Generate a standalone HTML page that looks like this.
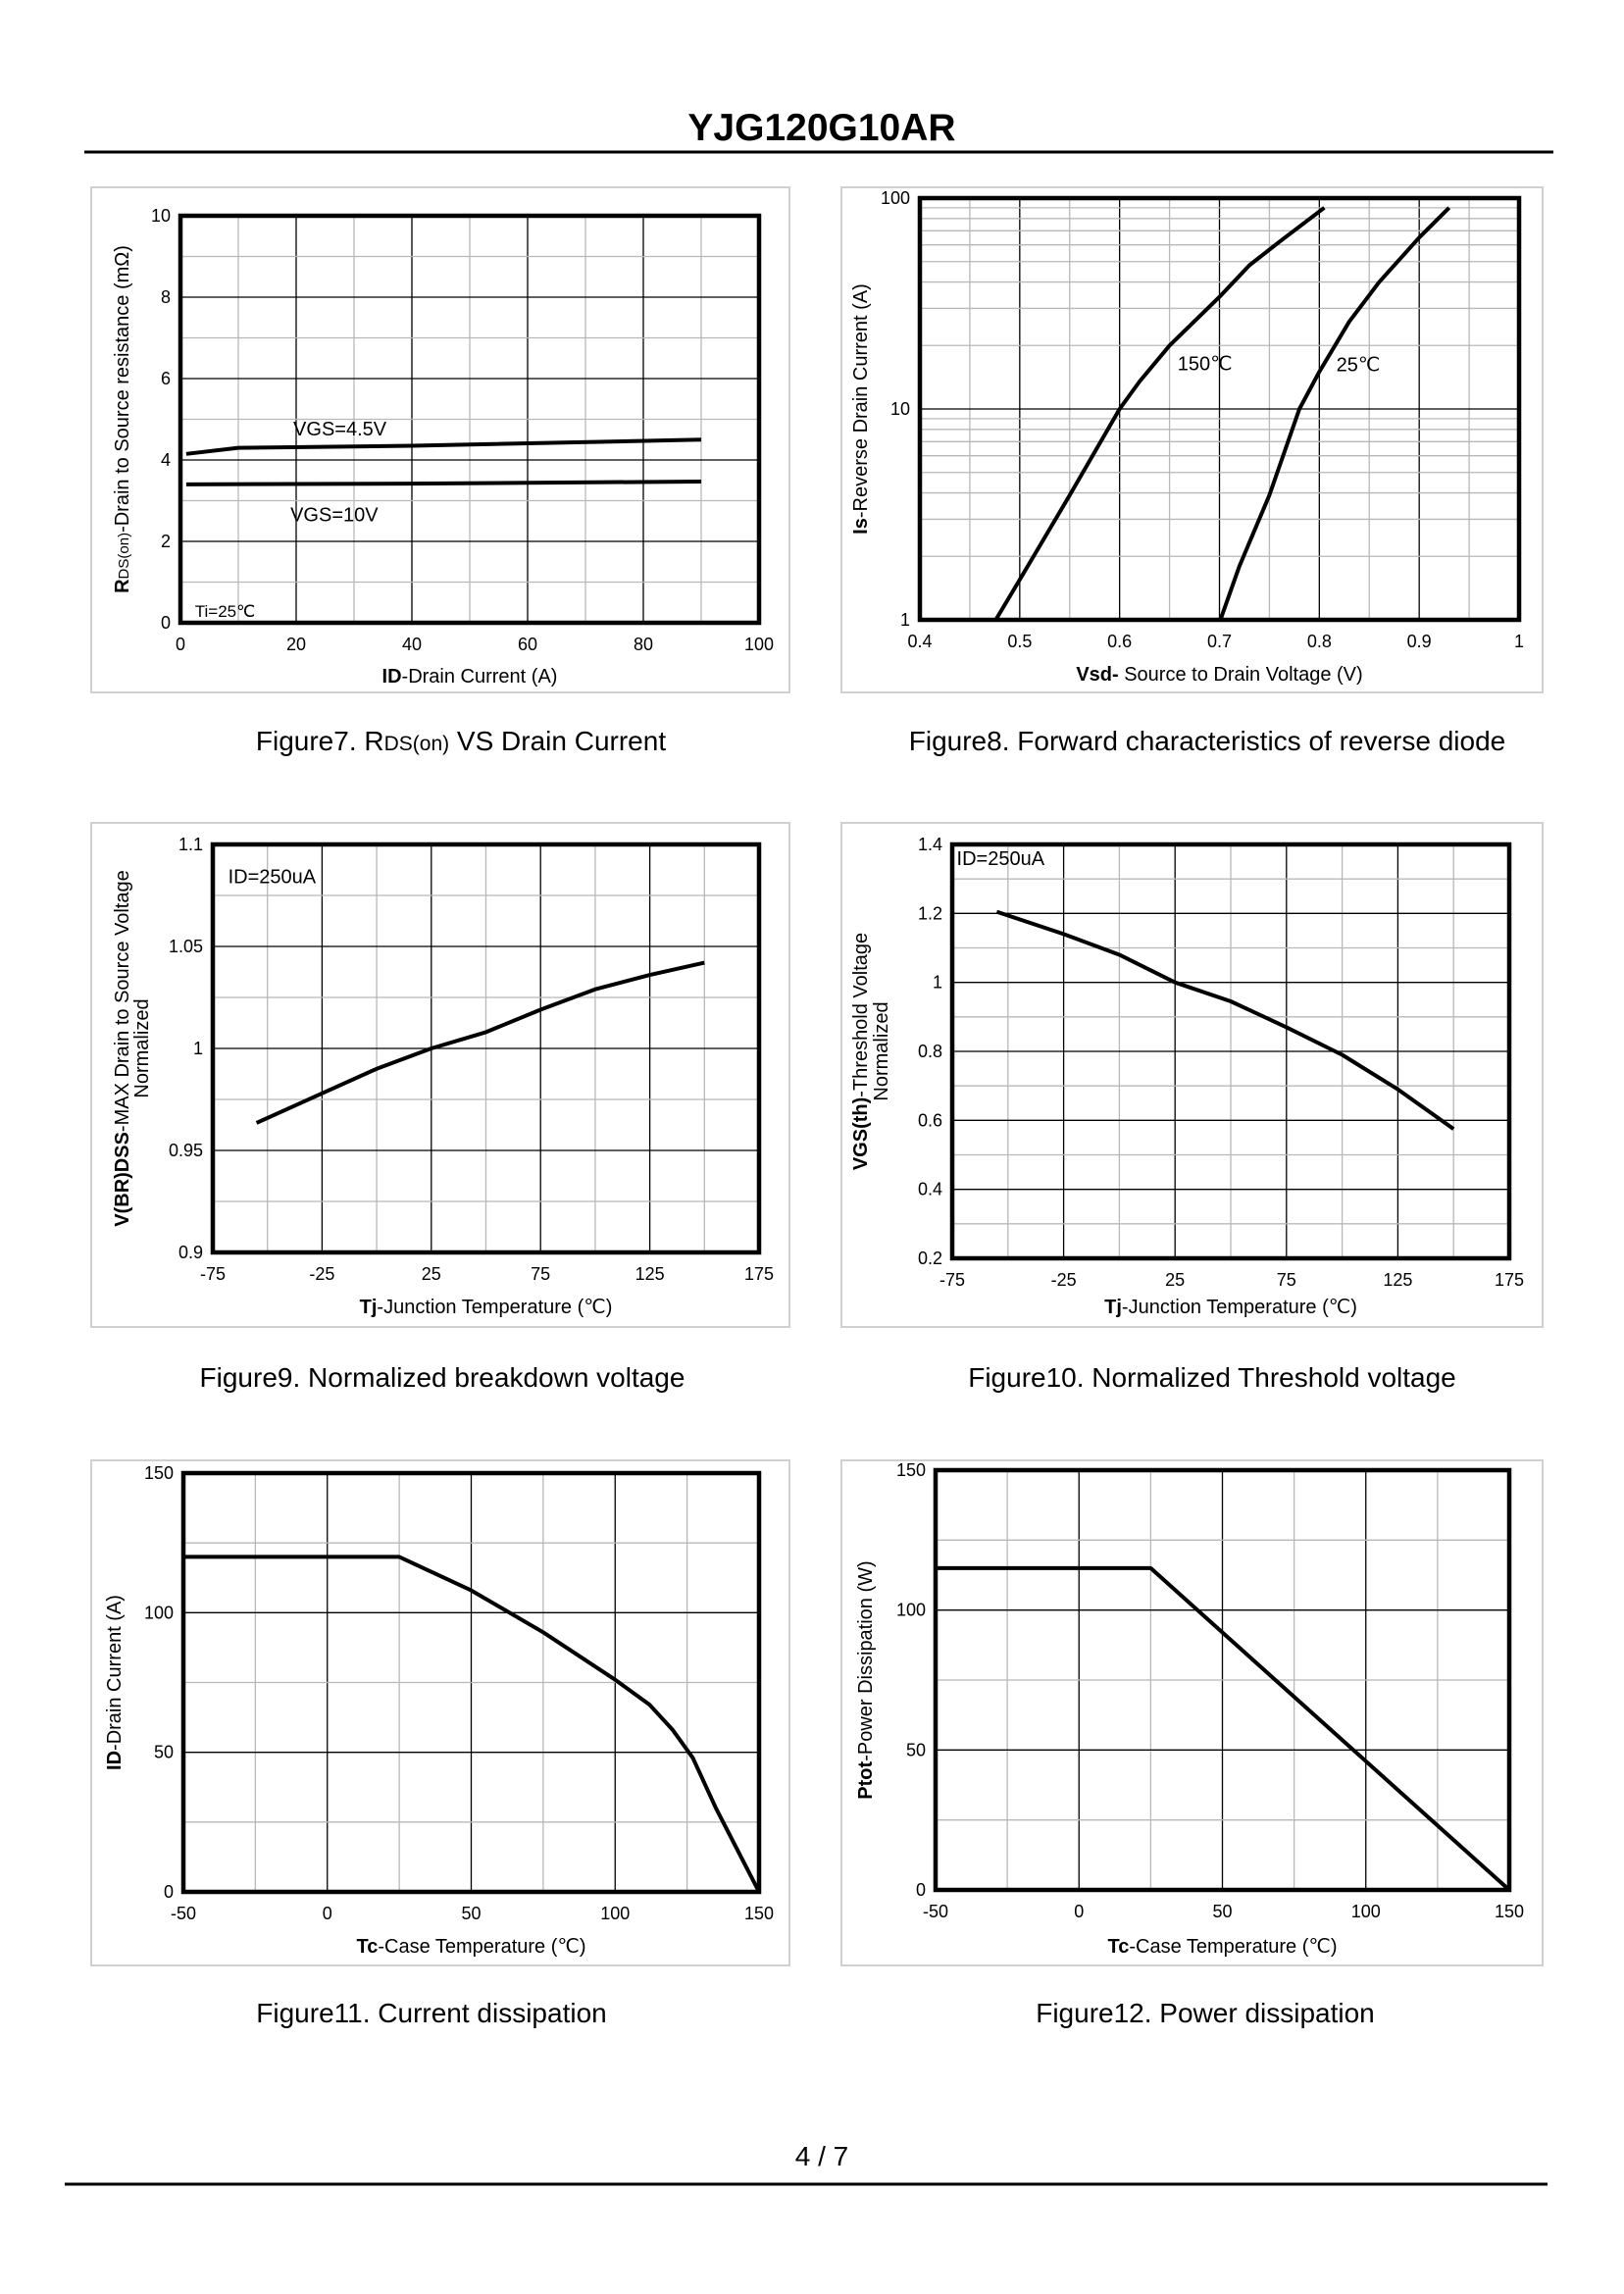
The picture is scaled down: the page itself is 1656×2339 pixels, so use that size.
<!DOCTYPE html>
<html><head><meta charset="utf-8"><style>
html,body{margin:0;padding:0;background:#fff}
svg{display:block}
text{font-family:"Liberation Sans",Arial,sans-serif;fill:#000}
</style></head><body>
<svg id="s" width="1656" height="2339" viewBox="0 0 1656 2339" xmlns="http://www.w3.org/2000/svg">
<text x="838" y="143" font-size="39" font-weight="bold" text-anchor="middle">YJG120G10AR</text>
<line x1="86" y1="155" x2="1584" y2="155" stroke="#000" stroke-width="3"/>
<text x="838" y="2208" font-size="28" text-anchor="middle">4 / 7</text>
<line x1="66" y1="2227" x2="1578" y2="2227" stroke="#000" stroke-width="3"/>
<text x="470" y="765" font-size="28" text-anchor="middle">Figure7. R<tspan font-size="21">DS(on)</tspan> VS Drain Current</text>
<text x="1231" y="765" font-size="28" text-anchor="middle">Figure8. Forward characteristics of reverse diode</text>
<text x="451" y="1414" font-size="28" text-anchor="middle">Figure9. Normalized breakdown voltage</text>
<text x="1236" y="1414" font-size="28" text-anchor="middle">Figure10. Normalized Threshold voltage</text>
<text x="440" y="2062" font-size="28" text-anchor="middle">Figure11. Current dissipation</text>
<text x="1229" y="2062" font-size="28" text-anchor="middle">Figure12. Power dissipation</text>
</svg>
<script>
var S=document.getElementById('s'),NS='http://www.w3.org/2000/svg';
function el(n,a,t){var e=document.createElementNS(NS,n);for(var k in a)e.setAttribute(k,a[k]);if(t!=null)e.textContent=t;S.appendChild(e);return e;}
function chart(c){
 el('rect',{x:c.px[0],y:c.px[1],width:c.px[2]-c.px[0],height:c.px[3]-c.px[1],fill:'#fff',stroke:'#d0d0d0','stroke-width':2});
 var L=c.p[0],T=c.p[1],R=c.p[2],B=c.p[3];
 var fx=function(v){return L+(v-c.x0)/(c.x1-c.x0)*(R-L);};
 var fy=c.log?function(v){return B-(Math.log10(v)-Math.log10(c.y0))/(Math.log10(c.y1)-Math.log10(c.y0))*(B-T);}:function(v){return B-(v-c.y0)/(c.y1-c.y0)*(B-T);};
 c.gx.forEach(function(g){var x=fx(g[0]);el('line',{x1:x,y1:T,x2:x,y2:B,stroke:g[1]?'#000':'#b8b8b8','stroke-width':g[1]?1.3:1.3});});
 c.gy.forEach(function(g){var y=fy(g[0]);el('line',{x1:L,y1:y,x2:R,y2:y,stroke:g[1]?'#000':'#b8b8b8','stroke-width':1.3});});
 el('rect',{x:L,y:T,width:R-L,height:B-T,fill:'none',stroke:'#000','stroke-width':4.5});
 c.xt.forEach(function(v){el('text',{x:fx(v),y:B+28,'font-size':18,'text-anchor':'middle'},String(v));});
 c.yt.forEach(function(v){el('text',{x:L-10,y:fy(v)+6,'font-size':18,'text-anchor':'end'},String(v));});
 c.series.forEach(function(s){var d=s.map(function(p,i){return (i?'L':'M')+fx(p[0]).toFixed(1)+' '+fy(p[1]).toFixed(1);}).join(' ');
  el('path',{d:d,fill:'none',stroke:'#000','stroke-width':4,'stroke-linejoin':'round'});});
 (c.labels||[]).forEach(function(l){el('text',{x:fx(l[0]),y:fy(l[1]),'font-size':l[3]||20},l[2]);});
 var xl=el('text',{x:(L+R)/2,y:c.xly,'font-size':20,'text-anchor':'middle'});xl.innerHTML=c.xl;
 c.yl.forEach(function(y){var t=el('text',{x:0,y:0,'font-size':20,'text-anchor':'middle',transform:'translate('+y[0]+','+((T+B)/2)+') rotate(-90)'});t.innerHTML=y[1];});
}
function rng(a,b,s,blk){var r=[];for(var v=a;v<=b+1e-9;v+=s){r.push([+v.toFixed(4),blk(+v.toFixed(4))]);}return r;}
// Fig 7
chart({px:[93,191,805,706],p:[184,220,774,635],x0:0,x1:100,y0:0,y1:10,
 gx:rng(10,90,10,function(v){return v%20==0;}),gy:rng(1,9,1,function(v){return v%2==0;}),
 xt:[0,20,40,60,80,100],yt:[0,2,4,6,8,10],
 series:[[[1,4.15],[10,4.3],[40,4.35],[90,4.5]],[[1,3.4],[40,3.42],[90,3.47]]],
 labels:[[19.5,4.6,'VGS=4.5V'],[19,2.5,'VGS=10V'],[2.5,0.15,'Ti=25℃',17]],
 xly:696,xl:'<tspan font-weight="bold">ID</tspan>-Drain Current  (A)',
 yl:[[131,'<tspan font-weight="bold">R</tspan><tspan font-size="15">DS(on)</tspan>-Drain to Source resistance  (mΩ)']]});
// Fig 8
var gy8=[];[1,10].forEach(function(d){for(var k=2;k<=9;k++)gy8.push([d*k,false]);});gy8.push([10,true]);
chart({px:[858,191,1573,706],p:[938,202,1549,632],x0:0.4,x1:1,y0:1,y1:100,log:true,
 gx:rng(0.45,0.95,0.05,function(v){return Math.abs(v*10-Math.round(v*10))<1e-6;}),gy:gy8,
 xt:[0.4,0.5,0.6,0.7,0.8,0.9,1],yt:[1,10,100],
 series:[[[0.476,1],[0.5,1.55],[0.55,3.9],[0.6,10],[0.62,13.5],[0.65,20],[0.7,34],[0.73,48],[0.76,62],[0.805,90]],
  [[0.701,1],[0.72,1.8],[0.75,3.9],[0.78,10],[0.8,15],[0.83,26],[0.86,40],[0.9,65],[0.93,90]]],
 labels:[[0.658,15.3,'150℃'],[0.817,15.1,'25℃']],
 xly:694,xl:'<tspan font-weight="bold">Vsd-</tspan> Source to Drain Voltage (V)',
 yl:[[884,'<tspan font-weight="bold">Is</tspan>-Reverse  Drain Current  (A)']]});
// Fig 9
chart({px:[93,839,805,1353],p:[217,861,774,1277],x0:-75,x1:175,y0:0.9,y1:1.1,
 gx:rng(-50,150,25,function(v){return (v+25)%50==0;}),gy:rng(0.925,1.075,0.025,function(v){return Math.abs(v*100-Math.round(v*20)*5)<1e-6;}),
 xt:[-75,-25,25,75,125,175],yt:[0.9,0.95,1,1.05,1.1],
 series:[[[-55,0.9635],[-25,0.978],[0,0.99],[25,1.0],[50,1.008],[75,1.019],[100,1.029],[125,1.036],[150,1.042]]],
 labels:[[-68,1.081,'ID=250uA']],
 xly:1339,xl:'<tspan font-weight="bold">Tj</tspan>-Junction  Temperature  (℃)',
 yl:[[131,'<tspan font-weight="bold">V(BR)DSS</tspan>-MAX Drain to Source Voltage'],[151,'Normalized']]});
// Fig 10
chart({px:[858,839,1573,1353],p:[971,861,1539,1283],x0:-75,x1:175,y0:0.2,y1:1.4,
 gx:rng(-50,150,25,function(v){return (v+25)%50==0;}),gy:rng(0.3,1.3,0.1,function(v){return Math.round(v*10)%2==0;}),
 xt:[-75,-25,25,75,125,175],yt:[0.2,0.4,0.6,0.8,1,1.2,1.4],
 series:[[[-55,1.205],[-25,1.14],[0,1.08],[25,1.0],[50,0.945],[75,0.87],[100,0.79],[125,0.69],[150,0.575]]],
 labels:[[-73,1.34,'ID=250uA']],
 xly:1339,xl:'<tspan font-weight="bold">Tj</tspan>-Junction  Temperature  (℃)',
 yl:[[884,'<tspan font-weight="bold">VGS(th)</tspan>-Threshold  Voltage'],[905,'Normalized']]});
// Fig 11
chart({px:[93,1489,805,2004],p:[187,1502,774,1929],x0:-50,x1:150,y0:0,y1:150,
 gx:rng(-25,125,25,function(v){return v%50==0;}),gy:rng(25,125,25,function(v){return v%50==0;}),
 xt:[-50,0,50,100,150],yt:[0,50,100,150],
 series:[[[-50,120],[25,120],[50,108],[75,93],[100,76],[112,67],[120,58],[127,48],[135,30],[150,0]]],
 xly:1991,xl:'<tspan font-weight="bold">Tc</tspan>-Case Temperature  (℃)',
 yl:[[123,'<tspan font-weight="bold">ID</tspan>-Drain Current  (A)']]});
// Fig 12
chart({px:[858,1489,1573,2004],p:[954,1499,1539,1927],x0:-50,x1:150,y0:0,y1:150,
 gx:rng(-25,125,25,function(v){return v%50==0;}),gy:rng(25,125,25,function(v){return v%50==0;}),
 xt:[-50,0,50,100,150],yt:[0,50,100,150],
 series:[[[-50,115],[25,115],[150,0]]],
 xly:1991,xl:'<tspan font-weight="bold">Tc</tspan>-Case Temperature  (℃)',
 yl:[[889,'<tspan font-weight="bold">Ptot</tspan>-Power Dissipation  (W)']]});
</script>
</body></html>
